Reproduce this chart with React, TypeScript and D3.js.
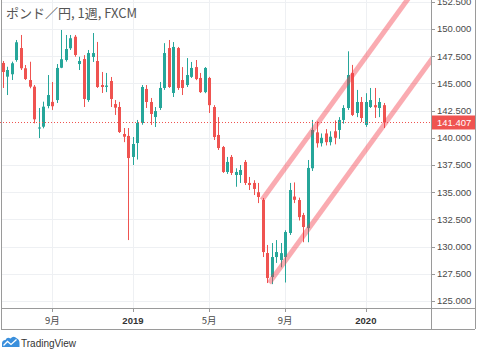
import React, { useEffect } from "react";
import * as d3 from "d3";

const TITLE = "ポンド／円, 1週, FXCM";
const START_DATE = new Date(2018, 5, 18);

const OPEN = [
  146.88, 145.62, 145.84, 147.15, 148.25, 146.39, 145.31, 144.7, 140.85, 141.02,
  142.92, 143.3, 143.47, 146.44, 147.15, 148.23, 149.29, 146.78, 147.24, 143.47,
  147.43, 147.06, 144.85, 144.68, 145.22, 143.1, 142.83, 140.35, 140.17, 138.24,
  139.52, 141.36, 144.49, 143.29, 141.91, 142.74, 144.58, 148.25, 144.12, 148.25,
  145.31, 144.85, 145.6, 146.5, 145.5, 144.2, 145.5, 142.83, 140.26, 139.15,
  136.86, 138.24, 136.58, 136.58, 137.78, 135.85, 135.85, 135.0, 134.28, 129.41,
  127.2, 129.04, 128.77, 129.04, 131.25, 134.6, 134.28, 132.9, 131.7, 137.2,
  140.5, 139.5, 140.4, 139.6, 140.6, 140.72, 141.64, 142.74, 145.95, 142.28,
  143.29, 141.18, 142.83, 143.0, 142.74, 143.0,
];
const HIGH = [
  147.06, 146.53, 147.0, 148.99, 149.45, 146.69, 146.99, 144.85, 142.74, 143.32,
  145.77, 145.13, 146.78, 149.91, 149.45, 149.45, 149.45, 147.45, 147.6, 148.07,
  149.63, 148.81, 146.05, 145.96, 145.59, 143.47, 143.3, 140.9, 140.9, 140.07,
  141.64, 144.85, 144.85, 143.66, 142.83, 145.13, 148.7, 148.99, 148.8, 148.35,
  146.5, 147.33, 146.97, 147.15, 145.96, 146.5, 145.6, 143.0, 141.9, 139.25,
  138.24, 138.42, 137.2, 137.5, 137.96, 136.4, 136.1, 135.85, 134.47, 130.15,
  130.33, 130.6, 130.33, 131.5, 135.85, 135.9, 134.5, 133.1, 137.96, 141.64,
  141.5, 140.4, 140.8, 140.6, 141.6, 141.9, 143.0, 147.95, 146.7, 144.4,
  143.75, 144.1, 144.58, 144.58, 143.66, 143.2,
];
const LOW = [
  144.58, 143.93, 145.31, 146.99, 146.23, 145.31, 144.55, 141.33, 139.98, 140.87,
  142.71, 142.56, 143.2, 146.4, 147.0, 148.07, 147.45, 146.23, 142.83, 143.3,
  146.97, 144.58, 144.12, 144.2, 142.83, 142.1, 140.44, 139.6, 130.6, 137.5,
  138.0, 141.2, 142.74, 141.18, 140.99, 142.56, 144.4, 144.58, 143.75, 144.4,
  143.93, 144.67, 145.5, 145.3, 144.12, 144.1, 142.28, 139.8, 138.88, 136.77,
  136.68, 136.58, 135.5, 135.85, 135.66, 135.2, 134.74, 134.0, 129.04, 126.65,
  126.55, 128.5, 128.1, 126.7, 131.07, 134.0, 132.4, 130.4, 130.4, 136.95,
  139.1, 139.2, 139.3, 139.3, 139.4, 139.9, 141.3, 142.56, 142.0, 141.9,
  141.45, 141.0, 142.74, 141.82, 141.9, 140.9,
];
const CLOSE = [
  146.05, 146.23, 146.85, 148.78, 146.39, 145.4, 144.7, 141.7, 140.95, 142.86,
  143.93, 142.9, 146.42, 147.22, 148.16, 149.15, 147.61, 147.06, 143.57, 147.79,
  147.79, 144.67, 144.67, 144.8, 143.57, 142.77, 140.53, 140.1, 138.14, 139.43,
  141.36, 144.67, 143.29, 142.19, 142.46, 144.58, 147.79, 144.67, 148.35, 144.58,
  144.58, 145.77, 146.42, 145.4, 144.2, 146.42, 143.0, 140.07, 139.06, 136.86,
  137.78, 136.77, 136.86, 137.04, 135.85, 135.66, 135.3, 134.56, 129.5, 127.11,
  129.04, 129.5, 129.4, 131.34, 135.2, 134.3, 132.71, 131.8, 137.23, 140.72,
  139.5, 140.0, 139.6, 140.1, 140.0, 141.64, 142.74, 145.77, 142.1, 143.29,
  141.82, 143.29, 143.47, 142.8, 143.29, 141.407,
];

const PRICE_TICKS = [125, 127.5, 130, 132.5, 135, 137.5, 140, 142.5, 145, 147.5, 150, 152.5];
const TIME_TICKS = [
  { date: new Date(2018, 8, 1), label: "9月", bold: false },
  { date: new Date(2019, 0, 1), label: "2019", bold: true },
  { date: new Date(2019, 4, 1), label: "5月", bold: false },
  { date: new Date(2019, 8, 1), label: "9月", bold: false },
  { date: new Date(2020, 0, 1), label: "2020", bold: true },
];
const LAST_PRICE = 141.407;
// parallel channel anchors: [bar index, price]
const CHANNEL_UPPER = [[57.8, 134.28], [100, 158.21]];
const CHANNEL_LOWER = [[59.4, 126.65], [100, 149.67]];

const W = 480;
const H = 351;
const PLOT_R = 431;
const PLOT_B = 308;
const AXIS_R = 475;
const TIME_B = 329;
const UP = "#26a69a";
const DOWN = "#ef5350";
const BORDER = "#9a9a9a";
const GRID = "#eef0f3";
const AXIS_FONT = "'Liberation Sans', Arial, sans-serif";

export default function App() {
  useEffect(() => {
    document.body.style.margin = "0";
  }, []);

  const n = OPEN.length;
  const dates = OPEN.map((_, i) => d3.timeDay.offset(START_DATE, 7 * i));
  const x = d3.scaleLinear().domain([0, n - 1]).range([3, 383.8]);
  const y = d3.scaleLinear().domain([125, 150]).range([301, 29]);

  const timeTicks = TIME_TICKS.map((t) => {
    const idx = dates.findIndex((d) => d >= t.date);
    return { ...t, x: x(idx) };
  });

  const line = d3
    .line<number[]>()
    .x((d) => x(d[0]))
    .y((d) => y(d[1]));

  const fmt = d3.format(".3f");

  return (
    <svg
      width={W}
      height={H}
      style={{ position: "fixed", left: 0, top: 0, background: "#fff" }}
    >
      <defs>
        <clipPath id="plot">
          <rect x={0} y={0} width={PLOT_R} height={PLOT_B} />
        </clipPath>
      </defs>
      <rect x={0} y={0} width={W} height={H} fill="#fff" />
      {/* grid */}
      <g>
        {PRICE_TICKS.map((p) => (
          <line
            key={p}
            x1={1}
            x2={PLOT_R}
            y1={Math.round(y(p)) + 0.5}
            y2={Math.round(y(p)) + 0.5}
            stroke={GRID}
          />
        ))}
        {timeTicks.map((t, i) => (
          <line
            key={i}
            x1={Math.round(t.x) + 0.5}
            x2={Math.round(t.x) + 0.5}
            y1={0}
            y2={PLOT_B}
            stroke={GRID}
          />
        ))}
      </g>
      {/* candles */}
      <g clipPath="url(#plot)">
        {OPEN.map((o, i) => {
          const c = CLOSE[i];
          const col = c >= o ? UP : DOWN;
          const cx = Math.round(x(i));
          const top = y(Math.max(o, c));
          const bot = y(Math.min(o, c));
          return (
            <g key={i}>
              <line
                x1={cx + 0.5}
                x2={cx + 0.5}
                y1={y(HIGH[i])}
                y2={y(LOW[i])}
                stroke={col}
                strokeWidth={1}
              />
              <rect
                x={cx - 1}
                y={top}
                width={3}
                height={Math.max(1, bot - top)}
                fill={col}
              />
            </g>
          );
        })}
      </g>
      {/* last price line */}
      <line
        x1={0}
        x2={PLOT_R}
        y1={Math.round(y(LAST_PRICE)) + 0.5}
        y2={Math.round(y(LAST_PRICE)) + 0.5}
        stroke={DOWN}
        strokeDasharray="1,2"
        strokeWidth={1}
      />
      {/* channel */}
      <g clipPath="url(#plot)">
        {[CHANNEL_UPPER, CHANNEL_LOWER].map((pts, i) => (
          <path
            key={i}
            d={line(pts as number[][]) || ""}
            fill="none"
            stroke="#f23645"
            strokeOpacity={0.42}
            strokeWidth={5}
          />
        ))}
      </g>
      {/* title */}
      <text
        x={6}
        y={18}
        fontFamily="'Noto Sans CJK JP', sans-serif"
        fontSize={13}
        fill="#555"
      >
        {TITLE}
      </text>
      {/* borders */}
      <g stroke={BORDER} fill="none" shapeRendering="crispEdges">
        <line x1={1.5} x2={1.5} y1={0} y2={TIME_B} />
        <line x1={PLOT_R + 0.5} x2={PLOT_R + 0.5} y1={0} y2={TIME_B} />
        <line x1={AXIS_R + 0.5} x2={AXIS_R + 0.5} y1={0} y2={TIME_B} />
        <line x1={1} x2={AXIS_R} y1={PLOT_B + 0.5} y2={PLOT_B + 0.5} />
        <line x1={1} x2={AXIS_R} y1={TIME_B + 0.5} y2={TIME_B + 0.5} />
      </g>
      {/* price axis */}
      <g fontFamily={AXIS_FONT} fontSize={9.5} fill="#4a4a4a">
        {PRICE_TICKS.map((p) => (
          <g key={p}>
            <line
              x1={PLOT_R}
              x2={PLOT_R + 4}
              y1={Math.round(y(p)) + 0.5}
              y2={Math.round(y(p)) + 0.5}
              stroke={BORDER}
            />
            <text x={437} y={y(p)} dy="0.35em">
              {fmt(p)}
            </text>
          </g>
        ))}
      </g>
      {/* last price label */}
      <rect
        x={PLOT_R + 1}
        y={y(LAST_PRICE) - 7}
        width={AXIS_R - PLOT_R - 1}
        height={14}
        fill={DOWN}
      />
      <text
        x={437}
        y={y(LAST_PRICE)}
        dy="0.35em"
        fontFamily={AXIS_FONT}
        fontSize={9.5}
        fill="#fff"
      >
        {fmt(LAST_PRICE)}
      </text>
      {/* time axis */}
      <g fontFamily={AXIS_FONT} fontSize={9.5} fill="#4a4a4a" textAnchor="middle">
        {timeTicks.map((t, i) => (
          <g key={i}>
            <line
              x1={Math.round(t.x) + 0.5}
              x2={Math.round(t.x) + 0.5}
              y1={PLOT_B}
              y2={PLOT_B + 4}
              stroke={BORDER}
            />
            <text
              x={t.x}
              y={324}
              fontWeight={t.bold ? "bold" : "normal"}
              fontFamily={t.bold ? AXIS_FONT : "'Noto Sans CJK JP', sans-serif"}
              fill={t.bold ? "#333" : "#4a4a4a"}
            >
              {t.label}
            </text>
          </g>
        ))}
      </g>
      {/* TradingView logo */}
      <g>
        <path
          d="M2,347 L2,343.5 Q2,340 5.5,340 Q7,336.5 10.5,338.5 Q13.5,335 17,338.5 Q19.5,339.5 19.5,343 L19.5,347 Z"
          fill="#3a8fdc"
        />
        <polyline
          points="3.5,345.5 7.5,341.5 11,344.5 16.5,339.5"
          fill="none"
          stroke="#fff"
          strokeWidth={1.3}
        />
        <text
          x={21}
          y={347}
          fontFamily={AXIS_FONT}
          fontSize={10}
          fill="#333"
        >
          TradingView
        </text>
      </g>
    </svg>
  );
}
